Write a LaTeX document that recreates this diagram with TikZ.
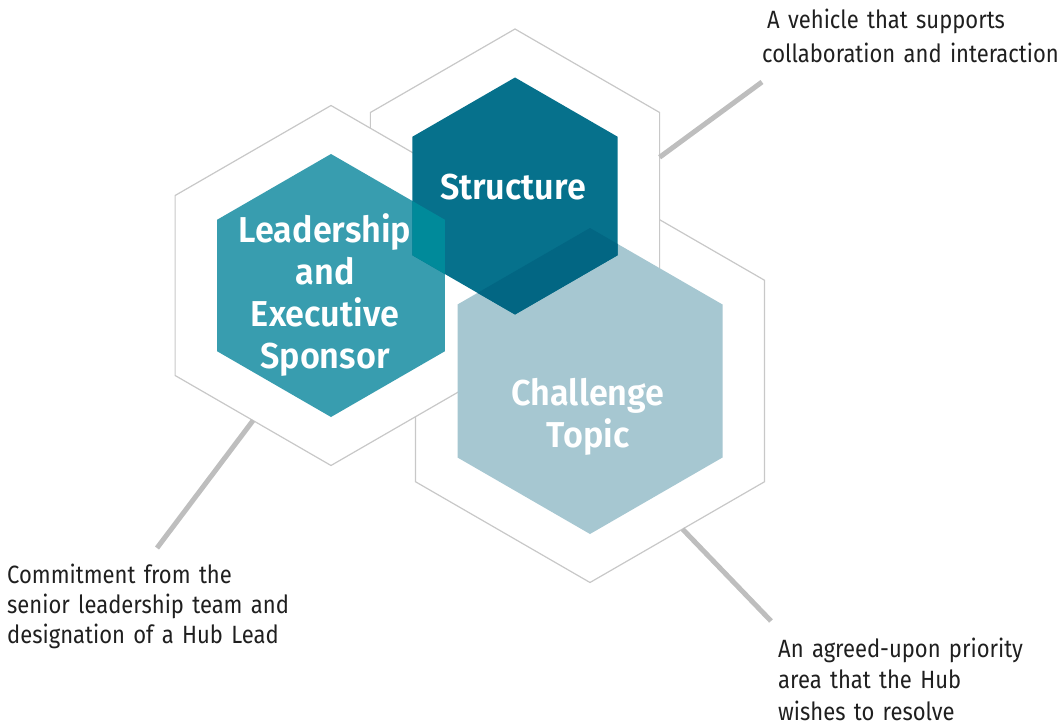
\documentclass[tikz,border=0pt]{standalone}
\usepackage{fontspec}
\setmainfont{Fira Sans}[FakeStretch=0.88]
\newfontfamily\hexfont{Fira Sans SemiBold}[FakeStretch=0.95]
\usepackage{tikz}
\usetikzlibrary{shapes.geometric, positioning}

\definecolor{leadteal}{RGB}{56,157,175}
\definecolor{structblue}{RGB}{6,113,140}
\definecolor{topicblue}{RGB}{166,199,209}
\definecolor{lsmix}{RGB}{0,138,154}
\definecolor{stmix}{RGB}{2,102,131}
\definecolor{rimgray}{RGB}{200,200,200}
\definecolor{tiegray}{RGB}{190,190,190}

\begin{document}
\begin{tikzpicture}[
  x=1pt, y=-1pt,
  hexagon/.style={
    regular polygon,
    regular polygon sides=6,
    shape border rotate=30,
    inner sep=0pt,
    outer sep=0pt
  },
  rim/.style={hexagon,draw=rimgray,line width=1.2pt,fill=white},
  core/.style={hexagon,draw=none},
  tie/.style={draw=tiegray,line width=5pt},
  hexlabel/.style={
    anchor=base,
    inner sep=0pt,
    text width=260pt,
    align=center,
    text=white,
    font=\hexfont\fontsize{36}{42}\selectfont
  },
  note/.style={
    anchor=base west,
    inner sep=0pt,
    text width=400pt,
    align=left,
    text=black!88
  }
]
\useasboundingbox (0,0) rectangle (1063,725);

% outer rims, back to front
\node[rim,minimum size=403pt] (topicRim) at (590,381) {};
\node[rim,minimum size=334pt] (structRim) at (515,196) {};
\node[rim,minimum size=360pt] (leadRim) at (331,285.5) {};

% coloured cores
\node[core,fill=leadteal,minimum size=263pt] (leadCore) at (331,285.5) {};
\node[core,fill=topicblue,minimum size=306pt] (topicCore) at (590,381) {};
\node[core,fill=structblue,minimum size=237pt] (structCore) at (515,196) {};

% overlaps
\begin{scope}
  \clip (leadCore.corner 1) -- (leadCore.corner 2) -- (leadCore.corner 3)
    -- (leadCore.corner 4) -- (leadCore.corner 5) -- (leadCore.corner 6) -- cycle;
  \fill[lsmix] (structCore.corner 1) -- (structCore.corner 2) -- (structCore.corner 3)
    -- (structCore.corner 4) -- (structCore.corner 5) -- (structCore.corner 6) -- cycle;
\end{scope}
\begin{scope}
  \clip (topicCore.corner 1) -- (topicCore.corner 2) -- (topicCore.corner 3)
    -- (topicCore.corner 4) -- (topicCore.corner 5) -- (topicCore.corner 6) -- cycle;
  \fill[stmix] (structCore.corner 1) -- (structCore.corner 2) -- (structCore.corner 3)
    -- (structCore.corner 4) -- (structCore.corner 5) -- (structCore.corner 6) -- cycle;
\end{scope}

\node[hexlabel] (leadLabel) at (325,242) {Leadership\\and\\Executive\\Sponsor};
\node[hexlabel] (structLabel) at (513,199) {Structure};
\node[hexlabel] (topicLabel) at (588,405) {Challenge\\Topic};

% side notes
\node[note,font=\fontsize{25}{34}\selectfont] (vehicleNote) at (762,29)
  {\hspace*{5pt}A vehicle that supports\\collaboration and interaction};
\node[note,font=\fontsize{25}{30}\selectfont] (commitNote) at (7,583)
  {Commitment from the\\senior leadership team and\\designation of a Hub Lead};
\node[note,font=\fontsize{25}{31.5}\selectfont] (agreedNote) at (778,657)
  {An agreed-upon priority\\area that the Hub\\wishes to resolve};

\coordinate (vehicleEnd) at (762,82);
\coordinate (commitEnd) at (157,548);
\coordinate (agreedEnd) at (771,621);

\draw[tie] (structRim.15) -- (vehicleEnd);
\draw[tie] (leadRim.240) -- (commitEnd);
\draw[tie] (topicRim.302) -- (agreedEnd);

\end{tikzpicture}
\end{document}
